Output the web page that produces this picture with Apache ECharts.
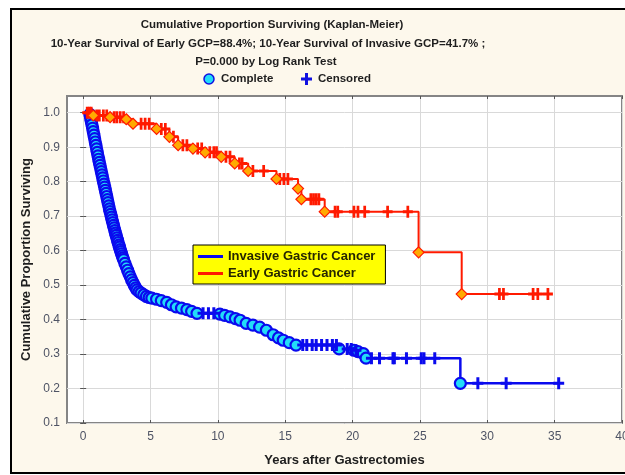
<!DOCTYPE html>
<html>
<head>
<meta charset="utf-8">
<script src="https://cdn.jsdelivr.net/npm/echarts@6/dist/echarts.min.js"></script>
<style>
html, body { margin: 0; padding: 0; background: #ffffff; }
#chart { width: 625px; height: 475px; }
</style>
</head>
<body>
<div id="chart"></div>
<script>
// Tick values
const xTicks = [0, 5, 10, 15, 20, 25, 30, 35, 40];
const yTicks = [0.1, 0.2, 0.3, 0.4, 0.5, 0.6, 0.7, 0.8, 0.9, 1.0];

// Invasive gastric cancer: completed (death) events [years, cumulative proportion]
const invasiveEvents = [
  [0.5, 0.995], [0.55, 0.985], [0.6, 0.975], [0.65, 0.965], [0.7, 0.955], [0.75, 0.945],
  [0.8, 0.935], [0.85, 0.925], [0.9, 0.915], [0.95, 0.905], [1.0, 0.895], [1.05, 0.885],
  [1.1, 0.875], [1.15, 0.865], [1.2, 0.856], [1.25, 0.847], [1.3, 0.838], [1.35, 0.829],
  [1.4, 0.82], [1.45, 0.811], [1.5, 0.802], [1.55, 0.793], [1.6, 0.784], [1.65, 0.775],
  [1.7, 0.766], [1.75, 0.757], [1.8, 0.748], [1.85, 0.739], [1.9, 0.73], [1.95, 0.721],
  [2.0, 0.713], [2.05, 0.705], [2.1, 0.697], [2.15, 0.689], [2.2, 0.681], [2.25, 0.673],
  [2.3, 0.666], [2.35, 0.658], [2.4, 0.651], [2.45, 0.644], [2.5, 0.637], [2.55, 0.63],
  [2.6, 0.623], [2.65, 0.616], [2.7, 0.61], [2.75, 0.603], [2.8, 0.597], [2.85, 0.591],
  [2.9, 0.585], [2.95, 0.579], [3.0, 0.574], [3.1, 0.563], [3.2, 0.553], [3.3, 0.543],
  [3.4, 0.533], [3.5, 0.524], [3.6, 0.515], [3.7, 0.507], [3.8, 0.499], [3.9, 0.492],
  [4.0, 0.486], [4.15, 0.481], [4.3, 0.477], [4.5, 0.472], [4.7, 0.467], [4.9, 0.464],
  [5.1, 0.462], [5.45, 0.459], [5.8, 0.455], [6.2, 0.45], [6.55, 0.443], [6.9, 0.437],
  [7.3, 0.433], [7.7, 0.429], [8.05, 0.424], [8.45, 0.418], [10.15, 0.416], [10.5, 0.412],
  [10.9, 0.408], [11.3, 0.403], [11.65, 0.398], [12.1, 0.389], [12.6, 0.384], [13.1, 0.378],
  [13.6, 0.369], [14.1, 0.356], [14.5, 0.347], [14.85, 0.34], [15.3, 0.333], [15.8, 0.326],
  [19.0, 0.315], [20.1, 0.311], [20.4, 0.307], [20.8, 0.301], [21.0, 0.288], [28.0, 0.215]
];
// Invasive gastric cancer: censored observations
const invasiveCensored = [
  [8.9, 0.418], [9.3, 0.418], [9.7, 0.418], [16.3, 0.326], [16.6, 0.326], [17.0, 0.326],
  [17.3, 0.326], [17.7, 0.326], [18.1, 0.326], [18.5, 0.326], [18.8, 0.326], [19.6, 0.315],
  [19.9, 0.315], [20.25, 0.311], [21.4, 0.288], [22.0, 0.288], [23.0, 0.288], [23.1, 0.288],
  [24.0, 0.288], [25.1, 0.288], [25.3, 0.288], [26.1, 0.288], [29.3, 0.215], [31.4, 0.215],
  [35.3, 0.215]
];
const invasiveStart = [0.3, 1.0];

// Early gastric cancer: completed events
const earlyEvents = [
  [0.75, 0.992], [2.0, 0.987], [3.2, 0.981], [3.7, 0.968], [5.45, 0.953], [6.4, 0.93],
  [7.05, 0.906], [8.15, 0.896], [9.05, 0.885], [10.25, 0.872], [11.25, 0.853], [12.25, 0.831],
  [14.35, 0.808], [15.95, 0.78], [16.2, 0.749], [17.93, 0.713], [24.9, 0.595], [28.1, 0.474]
];
// Early gastric cancer: censored observations
const earlyCensored = [
  [0.3, 1.0], [0.45, 1.0], [0.6, 1.0], [1.0, 0.992], [1.2, 0.992], [1.5, 0.992], [1.75, 0.992],
  [2.3, 0.987], [2.5, 0.987], [2.75, 0.987], [3.0, 0.987], [4.3, 0.968], [4.6, 0.968],
  [4.9, 0.968], [5.8, 0.953], [6.1, 0.953], [6.7, 0.93], [7.4, 0.906], [7.7, 0.906],
  [8.5, 0.896], [8.8, 0.896], [9.4, 0.885], [9.7, 0.885], [9.9, 0.885], [10.6, 0.872],
  [10.9, 0.872], [11.6, 0.853], [11.8, 0.853], [12.6, 0.831], [13.4, 0.831], [14.6, 0.808],
  [14.9, 0.808], [15.2, 0.808], [16.9, 0.749], [17.1, 0.749], [17.3, 0.749], [17.5, 0.749],
  [18.7, 0.713], [18.9, 0.713], [20.1, 0.713], [20.4, 0.713], [20.9, 0.713], [22.6, 0.713],
  [24.1, 0.713], [30.9, 0.474], [31.2, 0.474], [33.4, 0.474], [33.75, 0.474], [34.5, 0.474]
];
const earlyStart = [0.1, 1.0];

const FONT = 'Arial, "Liberation Sans", sans-serif';
const PLUS = 'path://M4,0H7V4.5H11V7.5H7V12H4V7.5H0V4.5H4Z';

// Step curve through every observation, in time order
function stepPath(start, events, censored) {
  return [start].concat(events, censored).sort((a, b) => a[0] - b[0]);
}

// Plus-shaped outline for the "Censored" key, placed at (x, y)
function plusPoints(x, y) {
  return [[4, 0], [7, 0], [7, 4.5], [11, 4.5], [11, 7.5], [7, 7.5], [7, 12], [4, 12],
          [4, 7.5], [0, 7.5], [0, 4.5], [4, 4.5]].map(p => [p[0] + x, p[1] + y]);
}

const chart = echarts.init(document.getElementById('chart'));

const titleFont = 'bold 11.5px ' + FONT;
const tickColor = '#4e5364';

const option = {
  backgroundColor: '#ffffff',
  animation: false,
  graphic: [
    {
      type: 'rect', z: -5,
      shape: { x: 11, y: 9, width: 700, height: 464 },
      style: { fill: '#fdf8ec', stroke: '#000000', lineWidth: 2 }
    },
    { type: 'text', x: 272, y: 25, style: { text: 'Cumulative Proportion Surviving (Kaplan-Meier)', font: titleFont, fill: '#1e1e1e', textAlign: 'center', textVerticalAlign: 'middle' } },
    { type: 'text', x: 268, y: 44, style: { text: '10-Year Survival of Early GCP=88.4%; 10-Year Survival of Invasive GCP=41.7% ;', font: titleFont, fill: '#1e1e1e', textAlign: 'center', textVerticalAlign: 'middle' } },
    { type: 'text', x: 266, y: 62, style: { text: 'P=0.000 by Log Rank Test', font: titleFont, fill: '#1e1e1e', textAlign: 'center', textVerticalAlign: 'middle' } },
    { type: 'circle', shape: { cx: 209, cy: 79, r: 5 }, style: { fill: '#22dcf8', stroke: '#1010e0', lineWidth: 1.5 } },
    { type: 'text', x: 221, y: 79, style: { text: 'Complete', font: titleFont, fill: '#1e1e1e', textAlign: 'left', textVerticalAlign: 'middle' } },
    { type: 'polygon', shape: { points: plusPoints(301, 73) }, style: { fill: '#1010e0' } },
    { type: 'text', x: 318, y: 79, style: { text: 'Censored', font: titleFont, fill: '#1e1e1e', textAlign: 'left', textVerticalAlign: 'middle' } }
  ],
  grid: {
    left: 67, top: 96, right: 3, bottom: 52,
    outerBoundsMode: 'none',
    show: true, backgroundColor: '#ffffff', borderColor: '#858585', borderWidth: 2
  },
  legend: {
    data: [
      { name: 'Invasive Gastric Cancer', icon: 'rect' },
      { name: 'Early Gastric Cancer', icon: 'rect' }
    ],
    orient: 'vertical', left: 193, top: 245,
    itemWidth: 25, itemHeight: 3, itemGap: 2,
    padding: [4, 10, 3, 5],
    backgroundColor: '#ffff00', borderColor: '#000000', borderWidth: 1,
    selectedMode: false,
    textStyle: { fontFamily: FONT, fontWeight: 'bold', fontSize: 13, lineHeight: 15, color: '#262600' }
  },
  xAxis: [
    {
      type: 'value', min: -1.2, max: 40,
      name: 'Years after Gastrectomies', nameLocation: 'middle', nameGap: 31,
      nameTextStyle: { fontFamily: FONT, fontWeight: 'bold', fontSize: 13, color: '#1e1e1e' },
      axisLine: { show: false },
      axisTick: { show: true, inside: true, length: 3, customValues: xTicks, lineStyle: { color: '#555' } },
      axisLabel: { customValues: xTicks, margin: 8, fontFamily: FONT, fontSize: 12, color: tickColor },
      splitLine: { show: true, lineStyle: { color: '#d9d9d9', width: 1 } }
    },
    {
      type: 'value', min: -1.2, max: 40, position: 'top',
      axisLine: { show: false },
      axisTick: { show: true, inside: true, length: 3, customValues: xTicks, lineStyle: { color: '#555' } },
      axisLabel: { show: false },
      splitLine: { show: false }
    }
  ],
  yAxis: [
    {
      type: 'value', min: 0.1, max: 1.0485,
      name: 'Cumulative Proportion Surviving', nameLocation: 'middle', nameGap: 34, nameRotate: 90,
      nameMoveOverlap: false,
      nameTextStyle: { fontFamily: FONT, fontWeight: 'bold', fontSize: 13, color: '#1e1e1e' },
      axisLine: { show: false },
      axisTick: { show: true, inside: true, length: 3, customValues: yTicks, lineStyle: { color: '#555' } },
      axisLabel: { customValues: yTicks, margin: 7, fontFamily: FONT, fontSize: 12, color: tickColor, formatter: v => v.toFixed(1) },
      splitLine: { show: true, lineStyle: { color: '#d9d9d9', width: 1 } }
    },
    {
      type: 'value', min: 0.1, max: 1.0485, position: 'right',
      axisLine: { show: false },
      axisTick: { show: true, inside: true, length: 3, customValues: yTicks, lineStyle: { color: '#555' } },
      axisLabel: { show: false },
      splitLine: { show: false }
    }
  ],
  series: [
    {
      name: 'Invasive Gastric Cancer', type: 'line', step: 'end', symbol: 'none', z: 2,
      data: stepPath(invasiveStart, invasiveEvents, invasiveCensored),
      itemStyle: { color: '#0a0aee' },
      lineStyle: { color: '#0a0aee', width: 2.5 }
    },
    {
      name: 'Invasive complete', type: 'scatter', symbol: 'circle', symbolSize: 11, z: 3,
      data: invasiveEvents,
      itemStyle: { color: '#22dcf8', borderColor: '#0a0aee', borderWidth: 2.2, opacity: 1 }
    },
    {
      name: 'Invasive censored', type: 'scatter', symbol: PLUS, symbolSize: [11, 12], z: 3,
      data: invasiveCensored,
      itemStyle: { color: '#0a0aee', opacity: 1 }
    },
    {
      name: 'Early Gastric Cancer', type: 'line', step: 'end', symbol: 'none', z: 4,
      data: stepPath(earlyStart, earlyEvents, earlyCensored),
      itemStyle: { color: '#ff1a00' },
      lineStyle: { color: '#ff1a00', width: 2 }
    },
    {
      name: 'Early censored', type: 'scatter', symbol: PLUS, symbolSize: [10, 12], z: 5,
      data: earlyCensored,
      itemStyle: { color: '#ff1a00', opacity: 1 }
    },
    {
      name: 'Early complete', type: 'scatter', symbol: 'diamond', symbolSize: 11, z: 6,
      data: earlyEvents,
      itemStyle: { color: '#ffaa00', borderColor: '#ff1a00', borderWidth: 1.2, opacity: 1 }
    }
  ]
};

chart.setOption(option);
</script>
</body>
</html>
